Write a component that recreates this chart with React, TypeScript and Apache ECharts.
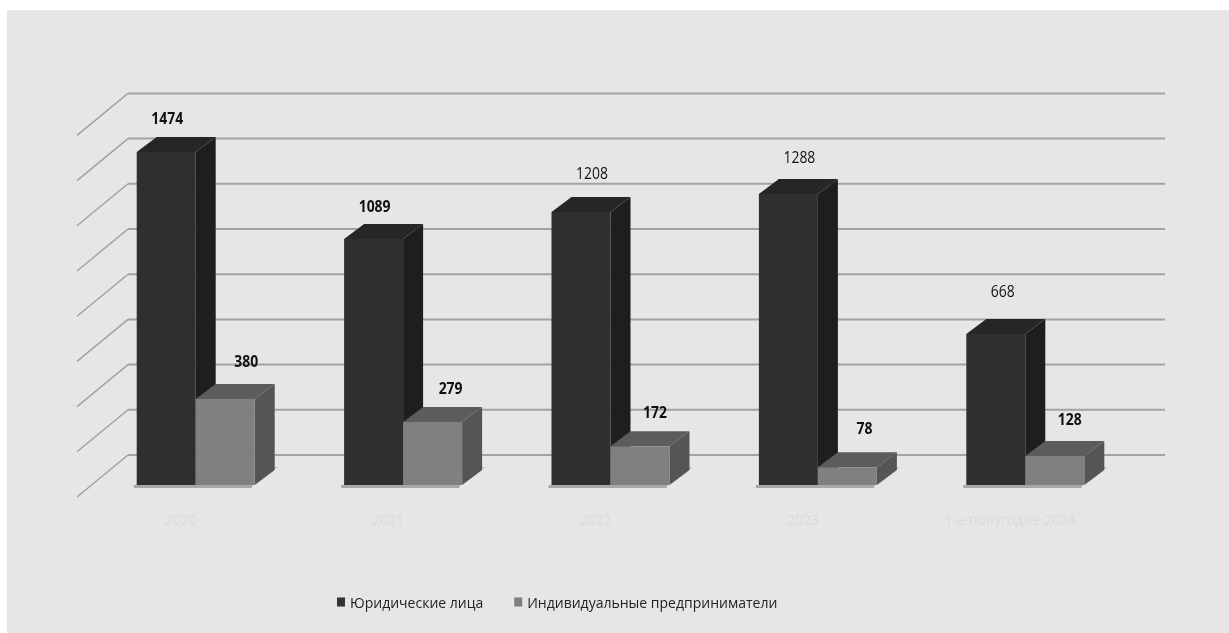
import React, { useEffect, useRef } from "react";
import * as echarts from "echarts";

const categories = ["2020", "2021", "2022", "2023", "1-е полугодие 2024"];
const legalEntities = [1474, 1089, 1208, 1288, 668];
const entrepreneurs = [380, 279, 172, 78, 128];
const gridValues = [0, 200, 400, 600, 800, 1000, 1200, 1400, 1600];

// label nudges relative to the bar's front-face centre and its back top edge
const legalNudge = [[1, -19], [1, -18], [11, -24], [11, -22], [7, -28]];
const entNudge = [[21, -24], [18, -19], [15, -20], [17, -25], [15, -22]];
const legalBold = [true, true, false, false, false];
const entBold = [true, true, true, true, true];

const FONT = '"Open Sans", sans-serif';
const WALL_DX = 51, WALL_DY = -42;
const FLOOR_DX = 15, FLOOR_DY = -12;
const BAR_W = 59, DEPTH_DX = 20, DEPTH_DY = -15;

function wallRender(params: any, api: any) {
  const v = api.value(0);
  const cs = params.coordSys;
  const y = api.coord([0, v])[1];
  const x0 = cs.x;
  const x1 = x0 + WALL_DX, y1 = y + WALL_DY;
  return {
    type: "group",
    children: [
      { type: "line", shape: { x1: x0, y1: y, x2: x1, y2: y1 }, style: { stroke: "#a0a0a0", lineWidth: 1.4 } },
      { type: "line", shape: { x1, y1, x2: x1 + cs.width, y2: y1 }, style: { stroke: "#a2a2a2", lineWidth: 2 } },
    ],
  };
}

function barRender(slot: 0 | 1, front: string, side: string, top: string, nudge: number[][], bold: boolean[]) {
  return (params: any, api: any) => {
    const i = api.value(0);
    const val = api.value(1);
    const [cx, yTop] = api.coord([i, val]);
    const [, yBase] = api.coord([i, 0]);
    const l = cx + FLOOR_DX - BAR_W + slot * BAR_W;
    const r = l + BAR_W;
    const b = yBase + FLOOR_DY;
    const t = yTop + FLOOR_DY;
    const n = nudge[i];
    return {
      type: "group",
      children: [
        { type: "polygon", shape: { points: [[l - 3, b], [r - 2, b], [r - 3, b + 3], [l - 3, b + 3]] }, style: { fill: "#a8a8a8" } },
        { type: "polygon", shape: { points: [[r, b], [r + DEPTH_DX + 3, b + DEPTH_DY - 3], [r + DEPTH_DX, b + DEPTH_DY - 3]] }, style: { fill: slot ? "#bcbcbc" : "#e6e6e6" } },
        { type: "polygon", shape: { points: [[r, t], [r + DEPTH_DX, t + DEPTH_DY], [r + DEPTH_DX, b + DEPTH_DY], [r, b]] }, style: { fill: side } },
        { type: "polygon", shape: { points: [[l, t], [l + DEPTH_DX, t + DEPTH_DY], [r + DEPTH_DX, t + DEPTH_DY], [r, t]] }, style: { fill: top } },
        { type: "rect", shape: { x: l, y: t, width: BAR_W, height: b - t }, style: { fill: front } },
        {
          type: "text",
          x: l + BAR_W / 2 + n[0],
          y: t + DEPTH_DY + n[1],
          scaleX: 0.87,
          style: {
            text: String(val), fill: "#111", font: `${bold[i] ? "bold " : ""}16px ${FONT}`,
            align: "center", verticalAlign: "middle",
          },
        },
      ],
    };
  };
}

export default function App() {
  const ref = useRef<HTMLDivElement>(null);
  useEffect(() => {
    const chart = echarts.init(ref.current!, undefined, { renderer: "svg" });
    chart.setOption({
      animation: false,
      backgroundColor: "#ffffff",
      graphic: [
        { type: "rect", z: -10, shape: { x: 7, y: 10, width: 1222, height: 623 }, style: { fill: "#e6e6e6" } },
      ],
      grid: { left: 77, width: 1037, top: 135.4, height: 361.6 },
      xAxis: {
        type: "category", data: categories,
        axisLine: { show: false }, axisTick: { show: false },
        axisLabel: { color: "#dadada", fontSize: 14, margin: 15, fontFamily: FONT, interval: 0 },
      },
      yAxis: { type: "value", min: 0, max: 1600, interval: 200, show: false, splitLine: { show: false } },
      legend: {
        left: 332, top: 590, itemWidth: 8, itemHeight: 9, itemGap: 31,
        icon: "rect",
        textStyle: { color: "#222", fontSize: 14, fontFamily: FONT },
        data: ["Юридические лица", "Индивидуальные предприниматели"],
      },
      series: [
        {
          type: "custom", silent: true, data: gridValues.map((v) => [v]), renderItem: wallRender,
          encode: { y: 0 }, z: 1,
        },
        {
          name: "Юридические лица", type: "custom", z: 2, itemStyle: { color: "#333333" },
          data: legalEntities.map((v, i) => [i, v]), encode: { x: 0, y: 1 },
          renderItem: barRender(0, "#2f2f2f", "#1e1e1e", "#262626", legalNudge, legalBold),
        },
        {
          name: "Индивидуальные предприниматели", type: "custom", z: 3, itemStyle: { color: "#808080" },
          data: entrepreneurs.map((v, i) => [i, v]), encode: { x: 0, y: 1 },
          renderItem: barRender(1, "#808080", "#555555", "#5c5c5c", entNudge, entBold),
        },
      ],
    });
    return () => chart.dispose();
  }, []);
  return <div ref={ref} style={{ position: "fixed", left: 0, top: 0, width: 1229, height: 633, filter: "blur(0.4px)" }} />;
}
